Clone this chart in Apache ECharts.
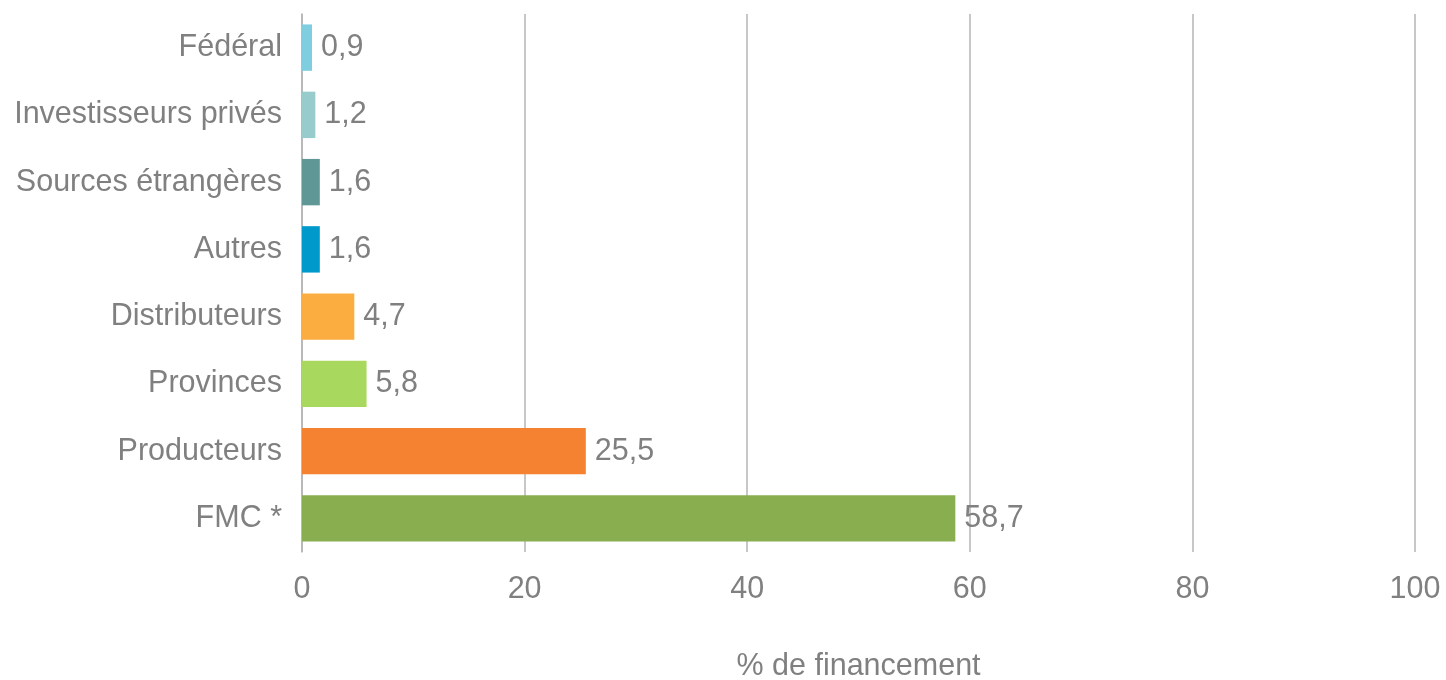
<!DOCTYPE html>
<html>
<head>
<meta charset="utf-8">
<script src="https://cdn.jsdelivr.net/npm/echarts@6/dist/echarts.min.js"></script>
<style>
html,body{margin:0;padding:0;background:#fff;}
#chart{width:1446px;height:680px;}
</style>
</head>
<body>
<div id="chart"></div>
<script>
var categories = ["Fédéral", "Investisseurs privés", "Sources étrangères", "Autres", "Distributeurs", "Provinces", "Producteurs", "FMC *"];
var values = [0.9, 1.2, 1.6, 1.6, 4.7, 5.8, 25.5, 58.7];
var barColors = ["#7fcee0", "#98cccc", "#5f9696", "#0099cc", "#fbad3f", "#a8d85e", "#f58230", "#88ae50"];
var xTicks = [0, 20, 40, 60, 80, 100];
var axisTitle = "% de financement";

var font = "'Liberation Sans', Arial, sans-serif";
var textColor = "#808080";
var fs = 30.5;

var chart = echarts.init(document.getElementById('chart'));
chart.setOption({
  animation: false,
  grid: { left: 302, right: 31, top: 14, bottom: 128, containLabel: false, outerBoundsMode: 'none' },
  xAxis: {
    type: 'value',
    min: xTicks[0],
    max: xTicks[xTicks.length - 1],
    interval: xTicks[1] - xTicks[0],
    name: axisTitle,
    nameLocation: 'middle',
    nameGap: 99,
    nameTextStyle: { fontFamily: font, fontSize: fs, color: textColor },
    axisLine: { show: false },
    axisTick: { show: false },
    axisLabel: { fontFamily: font, fontSize: fs, color: textColor, margin: 22 },
    splitLine: { show: true, lineStyle: { color: '#b4b4b4', width: 1.5 } }
  },
  yAxis: {
    type: 'category',
    data: categories,
    inverse: true,
    axisLine: { show: true, lineStyle: { color: '#b4b4b4', width: 1.5 } },
    axisTick: { show: false },
    axisLabel: { fontFamily: font, fontSize: fs, color: textColor, margin: 20, padding: [4, 0, 0, 0] }
  },
  series: [{
    type: 'bar',
    data: values.map(function (v, i) { return { value: v, itemStyle: { color: barColors[i] } }; }),
    barWidth: '69%',
    label: {
      show: true,
      position: 'right',
      distance: 9,
      padding: [4, 0, 0, 0],
      fontFamily: font,
      fontSize: fs,
      color: textColor,
      formatter: function (p) { return String(p.value).replace('.', ','); }
    }
  }]
});
</script>
</body>
</html>
